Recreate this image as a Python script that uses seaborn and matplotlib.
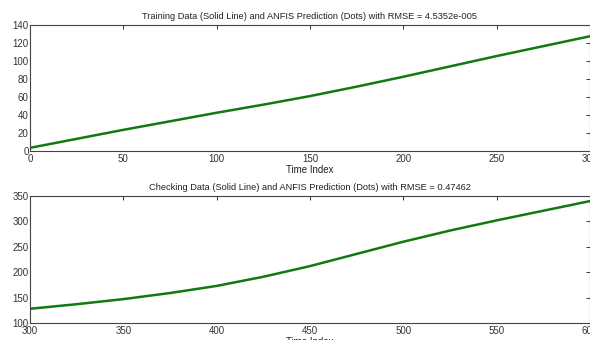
import matplotlib
matplotlib.use("Agg")
import matplotlib.pyplot as plt
import seaborn as sns
import pandas as pd

# values
train_idx = [0, 25, 50, 75, 100, 125, 150, 175, 200, 225, 250, 275, 300]
train_val = [3.5, 13.5, 23.5, 33, 42.5, 51.5, 61, 71.5, 82.5, 94, 105.5, 116.5, 127.5]
check_idx = [300, 325, 350, 375, 400, 425, 450, 475, 500, 525, 550, 575, 600]
check_val = [128, 137, 147, 159, 173, 191, 212, 236, 260, 282, 302, 321, 340]

train_title = "Training Data (Solid Line) and ANFIS Prediction (Dots) with RMSE = 4.5352e-005"
check_title = "Checking Data (Solid Line) and ANFIS Prediction (Dots) with RMSE = 0.47462"

sns.set_style("white")
plt.rcParams["font.family"] = ["Liberation Sans", "DejaVu Sans"]

fig = plt.figure(figsize=(5.9, 3.4), dpi=100)
ax1 = fig.add_axes([30/590, 1 - 151/340, 560/590, 126/340])
ax2 = fig.add_axes([30/590, 1 - 323/340, 560/590, 127/340])

green = "#107a10"

def panel(ax, x, y, title, xlim, ylim, yticks):
    df = pd.DataFrame({"t": x, "v": y})
    sns.lineplot(data=df, x="t", y="v", ax=ax, color=green, linewidth=1.8)
    ax.set_xlim(*xlim)
    ax.set_ylim(*ylim)
    ax.set_xticks(range(xlim[0], xlim[1] + 1, 50))
    ax.set_yticks(yticks)
    ax.tick_params(direction="in", length=3, width=0.7, top=True, right=True,
                   labelsize=7, pad=2, colors="#333333")
    ax.tick_params(axis="y", pad=1)
    for s in ax.spines.values():
        s.set_color("#444444")
        s.set_linewidth(0.8)
    ax.set_title(title, fontsize=6.7, pad=4, color="#222222")
    ax.set_xlabel("Time Index", fontsize=7, labelpad=1, color="#222222")
    ax.set_ylabel("")

panel(ax1, train_idx, train_val, train_title, (0, 300), (0, 140), range(0, 141, 20))
panel(ax2, check_idx, check_val, check_title, (300, 600), (100, 350), range(100, 351, 50))

fig.savefig("out.png", dpi=100)
